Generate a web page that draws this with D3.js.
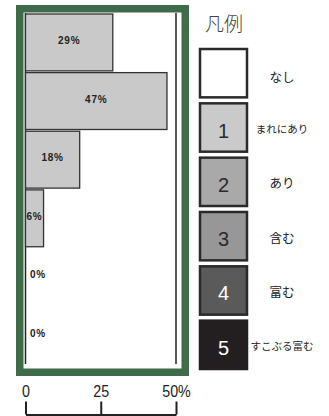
<!DOCTYPE html>
<html><head><meta charset="utf-8">
<script src="https://cdn.jsdelivr.net/npm/d3@7"></script>
<style>body{margin:0;background:#fff;}svg{display:block;}</style>
</head><body>
<svg id="c" width="329" height="416"></svg>
<script>
const categories = ["なし","まれにあり","あり","含む","富む","すこぶる富む"];
const values = [29, 47, 18, 6, 0, 0];
const tickValues = [0, 25, 50];
const tickLabels = ["0", "25", "50%"];
const legendTitle = "凡例";
const legendNumbers = ["", "1", "2", "3", "4", "5"];
const legendColors = ["#ffffff", "#cacaca", "#a9a9a9", "#979797", "#5a5a5a", "#231f20"];

const svg = d3.select("#c");
const x = d3.scaleLinear().domain([0, 50]).range([25.5, 176]);
const y = d3.scaleBand().domain(categories).range([14, 364]).paddingInner(0.03);

// green frame
svg.append("rect").attr("x", 19.75).attr("y", 8.75).attr("width", 165.5).attr("height", 363.5)
  .attr("fill", "#fff").attr("stroke", "#3e6c4b").attr("stroke-width", 7.5);

// vertical guide lines at 0 and 50
svg.selectAll("line.g").data([0, 50]).join("line").attr("class", "g")
  .attr("x1", d => x(d)).attr("x2", d => x(d)).attr("y1", 13).attr("y2", 364)
  .attr("stroke", "#222").attr("stroke-width", 1.5);

// bars
svg.selectAll("rect.bar").data(values.map((v, i) => ({v, c: categories[i]}))).join("rect")
  .attr("class", "bar")
  .filter(d => d.v > 0)
  .attr("x", x(0)).attr("y", d => y(d.c))
  .attr("width", d => x(d.v) - x(0)).attr("height", y.bandwidth())
  .attr("fill", "#c9c9c9").attr("stroke", "#333").attr("stroke-width", 1.3);

// bar labels
svg.selectAll("text.lab").data(values.map((v, i) => ({v, c: categories[i]}))).join("text")
  .attr("class", "lab")
  .attr("x", d => d.v > 3 ? (x(0) + x(d.v)) / 2 : x(0) + 4.5)
  .attr("y", d => y(d.c) + y.bandwidth() / 2 - 2)
  .attr("text-anchor", d => d.v > 3 ? "middle" : "start")
  .attr("dominant-baseline", "central")
  .attr("font-family", "Liberation Sans, Arial, sans-serif").attr("font-weight", "bold")
  .attr("font-size", 10).attr("letter-spacing", 0.8).attr("fill", "#222")
  .text(d => d.v + "%");

// axis
const axis = d3.axisTop(x).tickValues(tickValues).tickSize(13).tickPadding(5)
  .tickSizeOuter(0).tickFormat((d, i) => tickLabels[i]);
const ag = svg.append("g").attr("transform", "translate(0,414.5)").call(axis);
ag.select(".domain").attr("stroke", "#222").attr("stroke-width", 2);
ag.selectAll(".tick line").attr("stroke", "#222").attr("stroke-width", 2);
ag.selectAll(".tick text").attr("font-family", "Liberation Sans, Arial, sans-serif")
  .attr("font-size", 17).attr("fill", "#222").attr("transform", "scale(0.84,1)");

// legend
svg.append("text").attr("x", 205).attr("y", 31)
  .attr("font-family", "Noto Sans CJK JP, sans-serif").attr("font-size", 19)
  .attr("font-weight", 300).attr("fill", "#444").text(legendTitle);

const ly = d3.scaleBand().domain(categories).range([49, 369]).paddingInner(0.11);
const lg = svg.selectAll("g.leg").data(categories).join("g").attr("class", "leg")
  .attr("transform", d => `translate(200,${ly(d)})`);
lg.append("rect").attr("width", 47).attr("height", ly.bandwidth())
  .attr("fill", (d, i) => legendColors[i])
  .attr("stroke", (d, i) => i === 5 ? legendColors[i] : "#2a2a2a").attr("stroke-width", 2.5);
lg.append("text").attr("x", 23.5).attr("y", ly.bandwidth() / 2 + 10)
  .attr("text-anchor", "middle").attr("font-family", "Liberation Sans, Arial, sans-serif")
  .attr("font-size", 20).attr("fill", (d, i) => i >= 4 ? "#fff" : "#2a2a2a")
  .text((d, i) => legendNumbers[i]);
lg.append("text").attr("x", 82).attr("y", (d, i) => ly.bandwidth() / 2 + (i === 0 ? 3 : 1))
  .attr("text-anchor", "middle").attr("dominant-baseline", "central")
  .attr("font-family", "Noto Sans CJK JP, sans-serif")
  .attr("font-size", d => d.length <= 2 ? 12.5 : 10.5).attr("fill", "#222")
  .text(d => d);
</script>
</body></html>
